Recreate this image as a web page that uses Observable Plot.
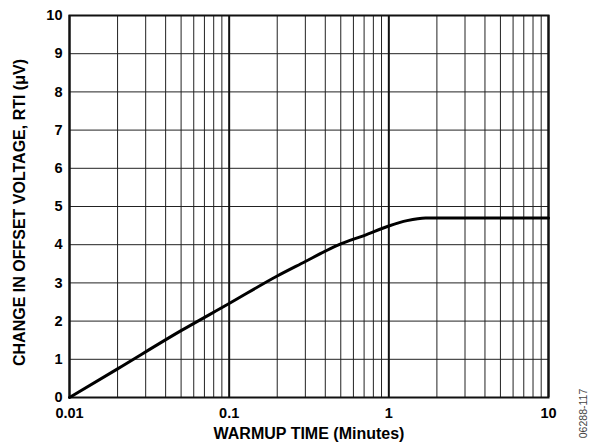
<!DOCTYPE html>
<html>
<head>
<meta charset="utf-8">
<script src="https://cdn.jsdelivr.net/npm/d3@7"></script>
<script src="https://cdn.jsdelivr.net/npm/@observablehq/plot@0.6"></script>
<style>
  html, body { margin: 0; padding: 0; background: #fff; }
  #chart { width: 595px; height: 442px; }
</style>
</head>
<body>
<div id="chart"></div>
<script>
// Warmup time (minutes) vs change in offset voltage (µV)
const warmupTime = [0.01, 0.02, 0.05, 0.1, 0.2, 0.3, 0.4, 0.5, 0.7, 1, 1.3, 1.7, 10];
const offsetChange = [0, 0.75, 1.75, 2.46, 3.18, 3.56, 3.83, 4.02, 4.24, 4.49, 4.63, 4.70, 4.70];

const xMajorTicks = [0.01, 0.1, 1, 10];
const xMajorLabels = ["0.01", "0.1", "1", "10"];
const xMinorTicks = [0.02, 0.03, 0.04, 0.05, 0.06, 0.07, 0.08, 0.09,
                     0.2, 0.3, 0.4, 0.5, 0.6, 0.7, 0.8, 0.9,
                     2, 3, 4, 5, 6, 7, 8, 9];
const yTicks = [0, 1, 2, 3, 4, 5, 6, 7, 8, 9, 10];

const xLabel = "WARMUP TIME (Minutes)";
const yLabel = "CHANGE IN OFFSET VOLTAGE, RTI (μV)";
const figureId = "06288-117";

const data = warmupTime.map((t, i) => ({t, v: offsetChange[i]}));
const majorLabelMap = new Map(xMajorTicks.map((t, i) => [t, xMajorLabels[i]]));

const chart = Plot.plot({
  width: 595,
  height: 442,
  marginLeft: 69,
  marginRight: 47,
  marginTop: 15,
  marginBottom: 45,
  style: {fontFamily: "Arial, 'Liberation Sans', sans-serif", fontSize: "14.5px", fontWeight: "bold", color: "#000", background: "#fff"},
  x: {type: "log", domain: [0.01, 10]},
  y: {domain: [0, 10]},
  marks: [
    Plot.ruleY(yTicks, {stroke: "#222", strokeWidth: 1}),
    Plot.ruleX(xMinorTicks, {stroke: "#222", strokeWidth: 1}),
    Plot.ruleX(xMajorTicks, {stroke: "#111", strokeWidth: 2}),
    Plot.frame({stroke: "#111", strokeWidth: 2}),
    Plot.line(data, {x: "t", y: "v", stroke: "#000", strokeWidth: 3, strokeLinejoin: "round", curve: "monotone-x"}),
    Plot.axisX({ticks: xMajorTicks, tickSize: 0, tickPadding: 10, tickFormat: d => majorLabelMap.get(d), label: null, fontSize: 14.5, fontWeight: "bold"}),
    Plot.axisY({ticks: yTicks, tickSize: 0, tickPadding: 7, label: null, fontSize: 14.5, fontWeight: "bold"}),
    Plot.text([xLabel], {frameAnchor: "bottom", lineAnchor: "middle", textAnchor: "middle", dy: 36, fontSize: 16, fontWeight: "bold", fill: "#000"}),
    Plot.text([yLabel], {frameAnchor: "left", lineAnchor: "middle", textAnchor: "middle", dx: -50, dy: 6, rotate: -90, fontSize: 16, fontWeight: "bold", fill: "#000"}),
    Plot.text([figureId], {frameAnchor: "bottom-right", lineAnchor: "middle", textAnchor: "middle", dx: 35, dy: 16, rotate: -90, fontSize: 10.5, fontWeight: "normal", fill: "#444"})
  ]
});
document.getElementById("chart").appendChild(chart);
</script>
</body>
</html>
